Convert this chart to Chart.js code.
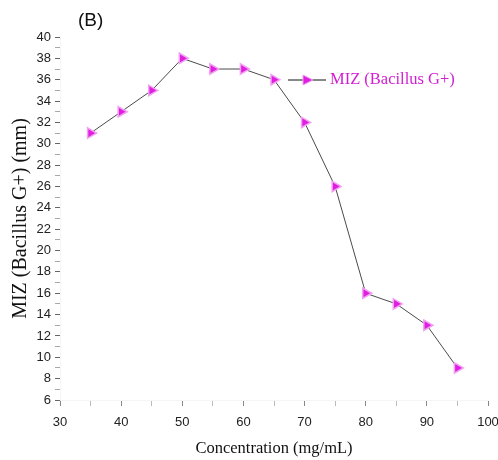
<!DOCTYPE html>
<html>
<head>
<meta charset="utf-8">
<script src="https://cdn.jsdelivr.net/npm/chart.js@4"></script>
<style>
  html, body { margin: 0; padding: 0; background: #fff; }
  #wrap { width: 498px; height: 460px; }
</style>
</head>
<body>
<div id="wrap"><canvas id="myChart" width="498" height="460"></canvas></div>
<script>
const concentrations = [35, 40, 45, 50, 55, 60, 65, 70, 75, 80, 85, 90, 95];
const mizValues = [31, 33, 35, 38, 37, 37, 36, 32, 26, 16, 15, 13, 9];
const seriesLabel = 'MIZ (Bacillus G+)';
const panelLabel = '(B)';
const xTitle = 'Concentration (mg/mL)';
const yTitle = 'MIZ (Bacillus G+) (mm)';

const ctx = document.getElementById('myChart');

// legend and panel letter drawn by hand, the built-in legend cannot sit there
const extras = {
    id: 'extras',
    afterDraw(chart) {
        const c = chart.ctx;
        c.save();
        c.fillStyle = '#111';
        c.font = '19px Arial';
        c.textBaseline = 'middle';
        c.fillText(panelLabel, 78, 21);

        const ly = 80;
        c.strokeStyle = '#111';
        c.lineWidth = 1;
        c.beginPath();
        c.moveTo(288, ly);
        c.lineTo(326, ly);
        c.stroke();
        c.fillStyle = '#e01ee0';
        c.strokeStyle = '#f2a0f2';
        c.beginPath();
        c.moveTo(303, ly - 5);
        c.lineTo(313, ly);
        c.lineTo(303, ly + 5);
        c.closePath();
        c.fill();
        c.stroke();
        c.fillStyle = '#d21ed2';
        c.font = '16.5px "Liberation Serif"';
        c.fillText(seriesLabel, 330, ly);
        c.restore();
    }
};

new Chart(ctx, {
    type: 'line',
    data: {
        datasets: [{
            label: seriesLabel,
            data: concentrations.map((x, i) => ({ x: x, y: mizValues[i] })),
            borderColor: '#4a4a4a',
            borderWidth: 1,
            pointStyle: 'triangle',
            rotation: 90,
            pointRadius: 6,
            pointBackgroundColor: '#e01ee0',
            pointBorderColor: '#f2a0f2',
            pointBorderWidth: 1.5,
            fill: false,
            tension: 0
        }]
    },
    options: {
        responsive: false,
        animation: false,
        layout: { padding: { top: 37, right: 10, left: 0, bottom: 0 } },
        plugins: {
            legend: { display: false },
            tooltip: { enabled: false }
        },
        scales: {
            x: {
                type: 'linear',
                min: 30,
                max: 100,
                border: { display: true, color: 'rgba(0,0,0,0.04)' },
                grid: {
                    drawOnChartArea: false,
                    tickLength: 6,
                    tickColor: c => (c.tick && c.tick.value % 10 === 0) ? '#888' : '#bbb'
                },
                ticks: {
                    stepSize: 5,
                    autoSkip: false,
                    maxRotation: 0,
                    color: '#222',
                    font: { family: 'Arial', size: 13 },
                    padding: 9,
                    callback: v => v % 10 === 0 ? v : ''
                },
                title: {
                    display: true,
                    text: xTitle,
                    color: '#111',
                    font: { family: '"Liberation Serif"', size: 16.5 },
                    padding: { top: 0, bottom: 1 }
                },
                afterFit(scale) {
                    scale.height = 60;
                    scale.paddingLeft = 0;
                    scale.paddingRight = 0;
                }
            },
            y: {
                min: 6,
                max: 40,
                border: { display: true, color: 'rgba(0,0,0,0.04)' },
                grid: {
                    drawOnChartArea: false,
                    tickLength: 5,
                    tickColor: c => (c.tick && c.tick.value % 2 === 0) ? '#666' : '#aaa'
                },
                ticks: {
                    stepSize: 1,
                    autoSkip: false,
                    color: '#222',
                    font: { family: 'Arial', size: 13 },
                    padding: 4,
                    callback: v => v % 2 === 0 ? v : ''
                },
                title: {
                    display: true,
                    text: yTitle,
                    color: '#111',
                    font: { family: '"Liberation Serif"', size: 20 },
                    padding: { top: 9, bottom: 0 }
                },
                afterFit(scale) { scale.width = 60; }
            }
        }
    },
    plugins: [extras]
});
</script>
</body>
</html>
